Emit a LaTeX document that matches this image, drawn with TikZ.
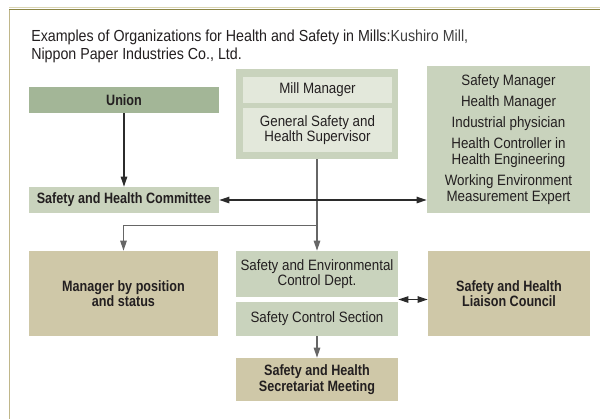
\documentclass[tikz,border=0pt]{standalone}
\usepackage{fontspec}
\setmainfont{Liberation Sans}[UprightFeatures={FakeStretch=0.89},BoldFeatures={FakeStretch=0.84}]
\usetikzlibrary{arrows.meta,fit,calc}
\definecolor{txt}{HTML}{231F20}
\definecolor{sage}{HTML}{C9D3BD}
\definecolor{sagedark}{HTML}{A3B697}
\definecolor{sagelight}{HTML}{E3E8DB}
\definecolor{tan}{HTML}{CFC8A8}
\definecolor{frameTop}{HTML}{8C8646}
\definecolor{frameTopLight}{HTML}{DAD5B4}
\definecolor{frameLeft}{HTML}{C0B78A}
\definecolor{lnk}{HTML}{2B2B2B}
\definecolor{lnkgray}{HTML}{666666}
\begin{document}
\begin{tikzpicture}[x=0.75pt,y=-0.75pt,
  >={Triangle[length=7.5pt,width=4.8pt]},
  orgbox/.style={inner sep=0pt, draw=none},
  sagebox/.style={orgbox, fill=sage},
  darkbox/.style={orgbox, fill=sagedark},
  lightbox/.style={orgbox, fill=sagelight},
  tanbox/.style={orgbox, fill=tan},
  lbl/.style={inner sep=0pt, align=center, text=txt,
    font=\fontsize{11.25}{11.8}\selectfont},
  blbl/.style={lbl, font=\fontsize{11.25}{11.8}\selectfont\bfseries},
  arr/.style={draw=lnk, line width=0.8pt, ->},
  darr/.style={draw=lnk, line width=0.8pt, <->},
  garr/.style={draw=lnkgray, line width=0.9pt, ->},
  ttl/.style={anchor=base west, inner sep=0pt, text=txt,
    font=\fontsize{12}{13}\selectfont}
]
\useasboundingbox (0,0) rectangle (600,419);
\fill[white] (0,0) rectangle (600,419);
% frame
\draw[frameTopLight, line width=0.8pt] (9,7.8) -- (600,7.8);
\draw[frameTop, line width=1.2pt] (9,9.5) -- (600,9.5);
\draw[frameLeft, line width=1.3pt] (9.5,9.5) -- (9.5,419);

% title
\node[ttl] (title1) at (31,41.7) {Examples of Organizations for Health and Safety in Mills:\textcolor{black!75}{Kushiro Mill,}};
\node[ttl] (title2) at (31,59) {Nippon Paper Industries Co., Ltd.};

% boxes
\node[darkbox, fit={(29,87) (219,113)}] (union) {};
\node[sagebox, fit={(236,69) (398,159)}] (mill) {};
\node[lightbox, fit={(243,77) (392,103)}] (millmgr) {};
\node[lightbox, fit={(243,108) (392,152)}] (gshs) {};
\node[sagebox, fit={(427,66) (590,213)}] (staff) {};
\node[sagebox, fit={(29,187) (219,213)}] (committee) {};
\node[tanbox, fit={(29,251) (218,336)}] (mgrpos) {};
\node[sagebox, fit={(236,251) (398,297)}] (sed) {};
\node[sagebox, fit={(236,302) (398,336)}] (scs) {};
\node[tanbox, fit={(428,251) (590,336)}] (liaison) {};
\node[tanbox, fit={(236,358) (398,401)}] (secr) {};

% texts
\node[blbl] (union-t) at (union) {Union};
\node[lbl] (millmgr-t) at (millmgr) {Mill Manager};
\node[lbl] (gshs-t) at (gshs) {General Safety and\\Health Supervisor};
\node[lbl] (staff-t) at (staff) {Safety Manager\\[4pt]Health Manager\\[4pt]Industrial physician\\[4pt]Health Controller in\\Health Engineering\\[4pt]Working Environment\\Measurement Expert};
\node[blbl] (committee-t) at (committee) {Safety and Health Committee};
\node[blbl] (mgrpos-t) at (mgrpos) {Manager by position\\and status};
\node[lbl] (sed-t) at (sed) {Safety and Environmental\\Control Dept.};
\node[lbl] (scs-t) at (scs) {Safety Control Section};
\node[blbl] (liaison-t) at (liaison) {Safety and Health\\Liaison Council};
\node[blbl] (secr-t) at (secr) {Safety and Health\\Secretariat Meeting};

% connectors
\draw[arr] (union) -- (committee);
\draw[garr] (mill) -- (sed);
\draw[darr] (committee.east) -- (committee.east -| staff.west);
\coordinate (junction) at ($(mill.south)!0.72!(sed.north)$);
\draw[garr] (junction) -| (mgrpos.north);
\coordinate (sidemid) at ($(sed.south east)!0.5!(scs.north east)$);
\draw[darr] (sidemid) -- (sidemid -| liaison.west);
\draw[garr] (scs) -- (secr);
\end{tikzpicture}
\end{document}
